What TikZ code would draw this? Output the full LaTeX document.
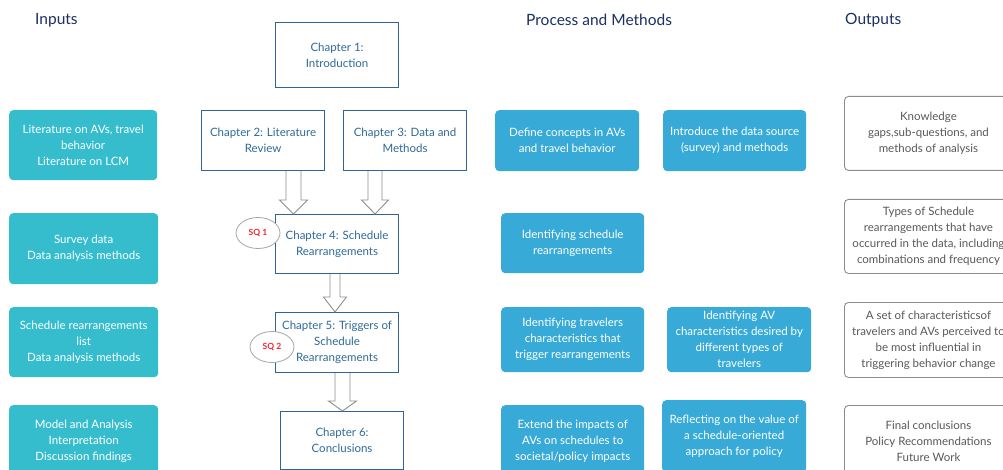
\documentclass[tikz,border=0pt]{standalone}
\usepackage{fontspec}
\setmainfont{Lato}
\usetikzlibrary{calc,shapes.geometric}
\definecolor{navy}{HTML}{1B2F63}
\definecolor{inc}{HTML}{36BDCD}
\definecolor{prc}{HTML}{37AAD7}
\definecolor{chb}{HTML}{2F6592}
\definecolor{cht}{HTML}{2F6A98}
\definecolor{outb}{HTML}{8C8C8C}
\definecolor{outt}{HTML}{595959}
\definecolor{arr}{HTML}{8E8E8E}
\definecolor{sqred}{HTML}{F0242F}
\tikzset{
  every node/.style={font=\fontsize{11.5}{16}\selectfont, align=center, inner sep=0pt},
  nw/.style={anchor=north west},
  title/.style={anchor=west, text=navy, font=\fontsize{15.5}{18}\selectfont},
  inbox/.style={nw, fill=inc, rounded corners=4pt, text=white},
  prbox/.style={nw, fill=prc, rounded corners=4pt, text=white},
  chbox/.style={nw, draw=chb, line width=1.1pt, fill=white, text=cht},
  outbox/.style={nw, draw=outb, line width=0.9pt, rounded corners=4pt, fill=white, text=outt},
  sq/.style={ellipse, draw=gray!70, line width=0.8pt, fill=white, minimum width=44pt, minimum height=31pt, text=sqred, font=\fontsize{8.5}{10}\selectfont\bfseries},
  harrow/.style={draw=arr, line width=0.9pt}
}
\newcommand\blockarr[6]{%
  \draw[harrow] let \p1=(#1.south), \p2=(#2.north) in
    ({(#3-#4)*1pt},\y1) -- ({(#3-#4)*1pt},{\y2+#6pt}) -- ({(#3-#5)*1pt},{\y2+#6pt})
    -- ({#3*1pt},\y2) -- ({(#3+#5)*1pt},{\y2+#6pt}) -- ({(#3+#4)*1pt},{\y2+#6pt})
    -- ({(#3+#4)*1pt},\y1);
}
\begin{document}
\begin{tikzpicture}[x=1pt,y=-1pt]
\useasboundingbox (0,0) rectangle (1003,470);
\clip (0,0) rectangle (1003,470);
\fill[white] (0,0) rectangle (1003,470);

% titles
\node[title] (tin) at (35,20) {Inputs};
\node[title] (tpm) at (526,20) {Process and Methods};
\node[title] (tout) at (845,20) {Outputs};

% inputs
\node[inbox, minimum width=148, minimum height=70] (in1) at (9,110) {Literature on AVs, travel\\behavior\\Literature on LCM};
\node[inbox, minimum width=149, minimum height=71] (in2) at (9,213) {Survey data\\Data analysis methods};
\node[inbox, minimum width=149, minimum height=70] (in3) at (9,307) {Schedule rearrangements\\list\\Data analysis methods};
\node[inbox, minimum width=149, minimum height=72] (in4) at (9,405) {Model and Analysis\\Interpretation\\Discussion findings};

% chapters
\node[chbox, minimum width=123, minimum height=65] (ch1) at (275,22) {Chapter 1:\\Introduction};
\node[chbox, minimum width=123, minimum height=60] (ch2) at (201,110) {Chapter 2: Literature\\Review};
\node[chbox, minimum width=123, minimum height=60] (ch3) at (343,110) {Chapter 3: Data and\\Methods};
\node[chbox, minimum width=123, minimum height=59] (ch4) at (275,214) {Chapter 4: Schedule\\Rearrangements};
\node[chbox, minimum width=123, minimum height=60] (ch5) at (275,312) {Chapter 5: Triggers of\\Schedule\\Rearrangements};
\node[chbox, minimum width=123, minimum height=58] (ch6) at (280,411) {Chapter 6:\\Conclusions};

\node[sq] (sq1) at (258,233) {SQ 1};
\node[sq] (sq2) at (272,347) {SQ 2};

% block arrows
\blockarr{ch2}{ch4}{293.5}{7.5}{14}{14}
\blockarr{ch3}{ch4}{375}{7}{13.5}{14}
\blockarr{ch4}{ch5}{335}{5}{11.5}{15}
\blockarr{ch5}{ch6}{342.5}{7.5}{14}{10}

% process
\node[prbox, minimum width=144, minimum height=61] (p1) at (495,110) {Define concepts in AVs\\and travel behavior};
\node[prbox, minimum width=143, minimum height=61] (p2) at (663,110) {Introduce the data source\\(survey) and methods};
\node[prbox, minimum width=143, minimum height=60] (p3) at (501,213) {Identifying schedule\\rearrangements};
\node[prbox, minimum width=143, minimum height=65] (p4) at (501,307) {Identifying travelers\\characteristics that\\trigger rearrangements};
\node[prbox, minimum width=144, minimum height=65] (p5) at (667,307) {Identifying AV\\characteristics desired by\\different types of\\travelers};
\node[prbox, minimum width=143, minimum height=72] (p6) at (501,405) {Extend the impacts of\\AVs on schedules to\\societal/policy impacts};
\node[prbox, minimum width=144, minimum height=72] (p7) at (662,400) {Reflecting on the value of\\a schedule-oriented\\approach for policy};

% outputs
\node[outbox, minimum width=168, minimum height=74] (o1) at (844,96) {Knowledge\\gaps,sub-questions, and\\methods of analysis};
\node[outbox, minimum width=168, minimum height=74] (o2) at (844,199) {Types of Schedule\\rearrangements that have\\occurred in the data, including\\combinations and frequency};
\node[outbox, minimum width=168, minimum height=75] (o3) at (844,302) {A set of characteristicsof\\travelers and AVs perceived to\\be most influential in\\triggering behavior change};
\node[outbox, minimum width=168, minimum height=72] (o4) at (844,405) {Final conclusions\\Policy Recommendations\\Future Work};
\end{tikzpicture}
\end{document}
